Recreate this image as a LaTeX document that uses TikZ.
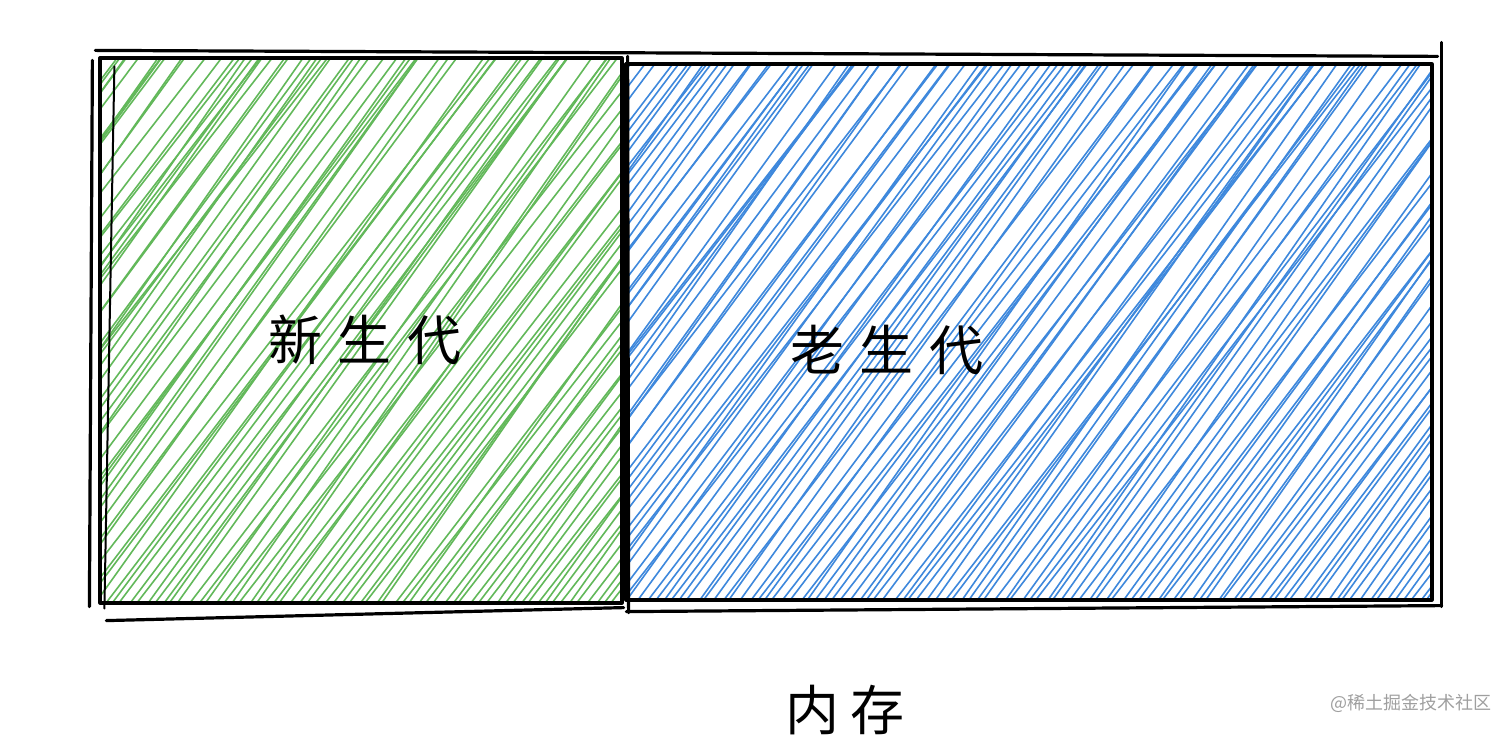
\documentclass[tikz,border=0pt]{standalone}
\usepackage{fontspec}
\usepackage{xcolor}
\newfontfamily\cjk{Noto Sans CJK SC}
\definecolor{young hatch}{RGB}{98,184,90}
\definecolor{old hatch}{RGB}{62,136,220}
\colorlet{box edge}{black}
\tikzset{sketch/.style={draw=box edge, line width=3.2pt, line cap=round, line join=round},
    thin sketch/.style={sketch, line width=2pt},
    hatched/.style={path picture={
        \foreach \k in {0,...,160}{
            \draw[#1, line width=1.6pt] ([xshift={\k*8.5pt-430pt+rand*3pt}]path picture bounding box.south west) -- ++({420+rand*25},570);
        }}},
    generation/.style={font=\cjk\fontsize{54}{60}\selectfont, inner sep=0pt}}

\begin{document}
\begin{tikzpicture}[x=1pt, y=1pt]
    \pgfmathsetseed{7}
    \useasboundingbox (0,0) rectangle (1512,734);
    \node[sketch, hatched=young hatch, minimum width=522pt, minimum height=545pt, inner sep=0pt] (young) at (361,403.5) {};
    \node[sketch, hatched=old hatch, minimum width=806pt, minimum height=536pt, inner sep=0pt] (old) at (1029,402) {};

    \draw[sketch] ([shift={(-3,6)}]young.north west) -- ([shift={(4,6)}]old.north east);
    \draw[sketch] ([shift={(-6,-4)}]young.north west) -- ([shift={(-9,-2)}]young.south west);
    \draw[thin sketch] ([shift={(16,-10)}]young.north west) -- ([shift={(6,-4)}]young.south west);
    \draw[sketch] ([shift={(8,-16)}]young.south west) -- ([shift={(0,-3)}]young.south east);
    \draw[sketch] ([shift={(4,0)}]young.north east) -- ([shift={(5,-8)}]young.south east);
    \draw[sketch] ([shift={(2,-10)}]old.south west) -- ([shift={(8,-4)}]old.south east);
    \draw[sketch] ([shift={(8,20)}]old.north east) -- ([shift={(8,-5)}]old.south east);

    \node[generation] (youngLabel) at (365,394) {新\hspace{16pt}生\hspace{16pt}代};
    \node[generation] (oldLabel) at (887,384) {老\hspace{16pt}生\hspace{16pt}代};
    \node[generation, anchor=base] (memory) at (845,4) {内\hspace{12pt}存};
    \node[anchor=east, text=gray!75, font=\cjk\fontsize{18}{20}\selectfont, inner sep=0pt] (mark) at (1492,31) {@稀土掘金技术社区};
\end{tikzpicture}
\end{document}
